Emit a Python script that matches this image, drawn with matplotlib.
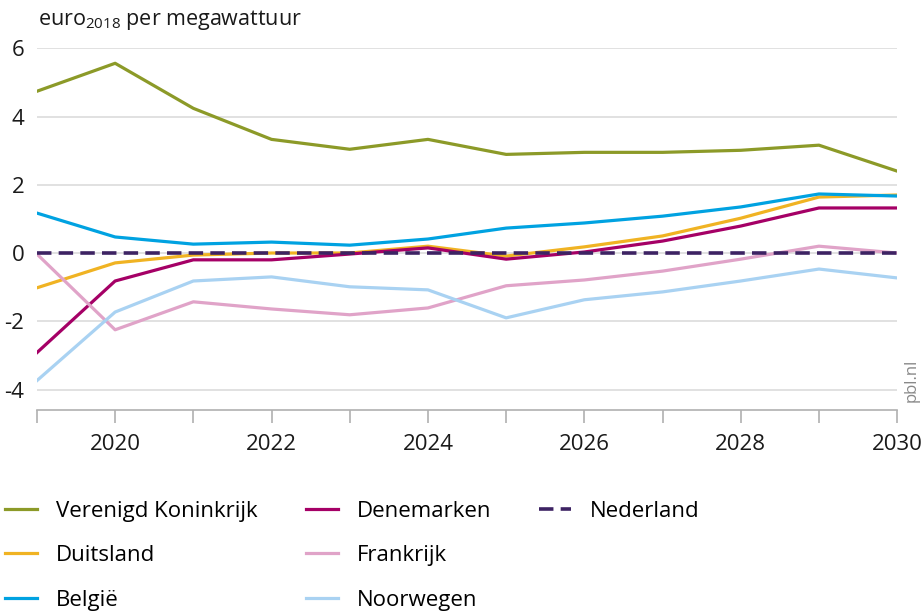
import matplotlib.pyplot as plt
from matplotlib.lines import Line2D
from matplotlib.ticker import MultipleLocator

plt.rcParams['font.family'] = ['Open Sans', 'DejaVu Sans']
plt.rcParams['mathtext.fontset'] = 'custom'
plt.rcParams['mathtext.rm'] = 'Open Sans'

# data
years = list(range(2019, 2031))
vk = [4.74, 5.56, 4.24, 3.33, 3.04, 3.33, 2.89, 2.95, 2.95, 3.01, 3.16, 2.40]
duitsland = [-1.02, -0.29, -0.06, 0.00, 0.00, 0.20, -0.09, 0.18, 0.50, 1.02, 1.64, 1.70]
belgie = [1.17, 0.47, 0.26, 0.32, 0.23, 0.41, 0.73, 0.88, 1.08, 1.35, 1.73, 1.67]
denemarken = [-2.92, -0.82, -0.20, -0.20, -0.03, 0.15, -0.18, 0.03, 0.35, 0.79, 1.32, 1.32]
frankrijk = [-0.03, -2.25, -1.43, -1.64, -1.81, -1.61, -0.96, -0.79, -0.53, -0.18, 0.20, 0.00]
noorwegen = [-3.74, -1.73, -0.82, -0.70, -0.99, -1.08, -1.90, -1.37, -1.14, -0.82, -0.47, -0.73]
nederland = [0.0] * 12

fig = plt.figure(figsize=(9.23, 6.11), dpi=100)
ax = fig.add_axes([0.040, 0.329, 0.932, 0.592])

lw = 2.3
series = [
    ('Verenigd Koninkrijk', vk, '#8c9a28'),
    ('Duitsland', duitsland, '#f0b323'),
    ('België', belgie, '#00a2e1'),
    ('Denemarken', denemarken, '#a50066'),
    ('Frankrijk', frankrijk, '#e0a3c8'),
    ('Noorwegen', noorwegen, '#a9d2f2'),
]
handles = []
for name, vals, col in series:
    h, = ax.plot(years, vals, color=col, lw=lw, label=name, zorder=3)
    handles.append(h)
h, = ax.plot(years, nederland, color='#3d2363', lw=lw + 0.3, dashes=(4, 2),
             label='Nederland', zorder=4)
handles.append(h)
# empty slot so the legend columns split 3/3/2
handles.append(Line2D([], [], color='none', label=' '))

ax.set_xlim(2019, 2030)
ax.set_ylim(-4.6, 6.0)
ax.yaxis.set_major_locator(MultipleLocator(2))
ax.set_xticks(range(2019, 2031), minor=True)
ax.set_xticks(range(2020, 2031, 2))
ax.grid(axis='y', color='#dcdcdc', lw=1.2, zorder=1)
for s in ['top', 'right', 'left']:
    ax.spines[s].set_visible(False)
ax.spines['bottom'].set_color('#b0b0b0')
ax.spines['bottom'].set_linewidth(1.2)
ax.tick_params(axis='y', length=0, pad=9, labelsize=16, labelcolor='#1a1a1a')
ax.tick_params(axis='x', which='both', length=9, width=1.2, color='#b0b0b0',
               pad=8, labelsize=16, labelcolor='#1a1a1a')
ax.tick_params(axis='x', which='minor', labelbottom=False)
ax.set_yticks([-4, -2, 0, 2, 4, 6])
ax.set_yticklabels(['-4', '-2', '0', '2', '4', '6'])

fig.text(38 / 923, 1 - 20 / 611, r'euro$_{\mathregular{2018}}$ per megawattuur',
         fontsize=15.5, va='center', ha='left', color='#1a1a1a')
fig.text(912 / 923, 1 - 380 / 611, 'pbl.nl', rotation=90, fontsize=12,
         color='#888888', ha='center', va='center')

fig.legend(handles=handles, ncol=3, loc='upper left',
           bbox_to_anchor=(-0.004, 1 - 492 / 611), frameon=False,
           handlelength=1.45, handletextpad=0.85,
           columnspacing=2.15, labelspacing=1.05, borderaxespad=0.0,
           prop={'family': ['Open Sans', 'DejaVu Sans'], 'size': 16})

fig.savefig('out.png', dpi=100)
